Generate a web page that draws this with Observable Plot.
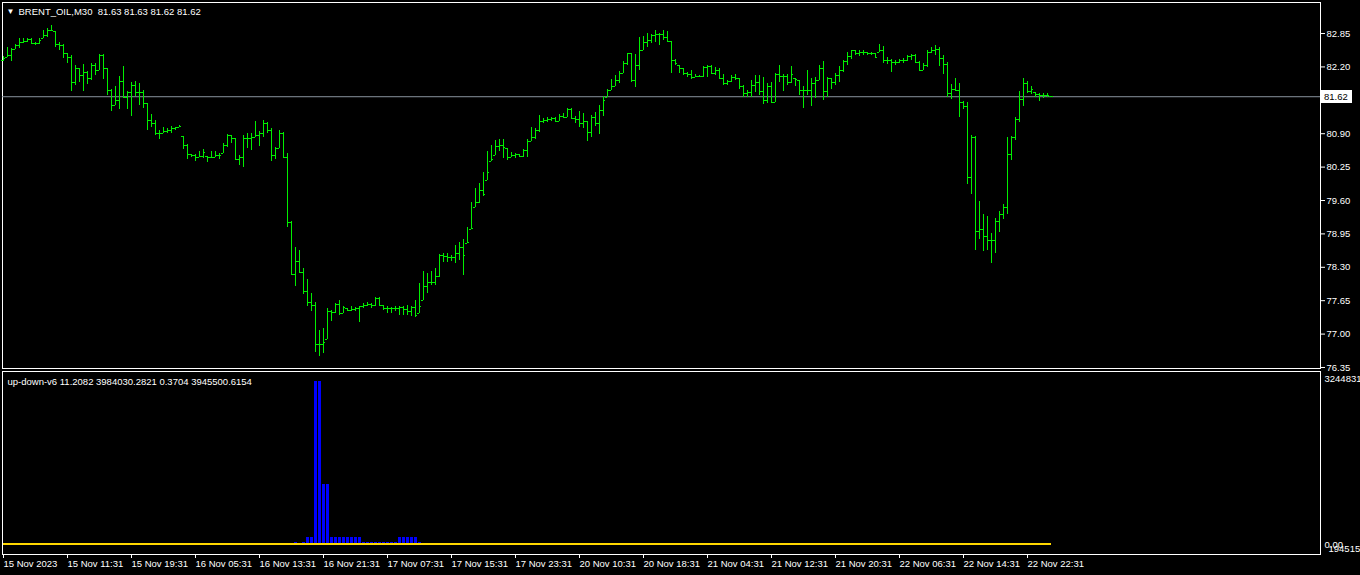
<!DOCTYPE html>
<html>
<head>
<meta charset="utf-8">
<script src="https://cdn.jsdelivr.net/npm/d3@7"></script>
<script src="https://cdn.jsdelivr.net/npm/@observablehq/plot@0.6"></script>
<style>
  html, body { margin: 0; padding: 0; background: #000; overflow: hidden; }
  #chart svg { display: block; }
</style>
</head>
<body>
<div id="chart"></div>
<script>
// ---------- DATA (BRENT_OIL, M30) ----------
const symbolTitle = "BRENT_OIL,M30\u00a0 81.63 81.63 81.62 81.62";
const indicatorTitle = "up-down-v6 11.2082 3984030.2821 0.3704 3945500.6154";
const currentPrice = 81.62;
const priceTicks = [82.85, 82.20, 81.55, 80.90, 80.25, 79.60, 78.95, 78.30, 77.65, 77.00, 76.35];

const timeTickIdx = [0, 16, 32, 48, 64, 80, 96, 112, 128, 144, 160, 176, 192, 208, 224, 240, 256];
const timeLabels = ["15 Nov 2023","15 Nov 11:31","15 Nov 19:31","16 Nov 05:31","16 Nov 13:31","16 Nov 21:31",
  "17 Nov 07:31","17 Nov 15:31","17 Nov 23:31","20 Nov 10:31","20 Nov 18:31","21 Nov 04:31",
  "21 Nov 12:31","21 Nov 20:31","22 Nov 06:31","22 Nov 14:31","22 Nov 22:31"];

const opens = [
82.33,82.38,82.42,82.53,82.62,82.68,82.70,82.73,82.66,82.65,
82.75,82.81,82.91,82.89,82.64,82.62,82.46,82.39,81.90,82.16,
82.03,82.10,81.97,82.23,82.14,82.42,82.16,81.74,81.45,81.55,
81.92,81.61,81.71,81.84,81.71,81.71,81.48,81.16,81.09,80.91,
80.91,80.95,80.96,81.00,81.02,80.85,80.67,80.49,80.47,80.44,
80.46,80.46,80.44,80.44,80.48,80.51,80.67,80.87,80.80,80.39,
80.44,80.80,80.80,80.83,80.87,80.91,81.09,80.96,80.48,80.62,
80.91,80.44,79.18,78.16,78.42,78.19,77.82,77.62,77.56,76.80,
76.80,76.89,77.43,77.42,77.58,77.41,77.49,77.46,77.48,77.49,
77.53,77.56,77.58,77.56,77.69,77.56,77.49,77.49,77.49,77.49,
77.51,77.47,77.43,77.51,77.40,77.66,77.92,78.01,78.01,78.12,
78.53,78.51,78.50,78.49,78.56,78.69,78.76,79.03,79.47,79.57,
79.80,79.99,80.35,80.48,80.65,80.67,80.61,80.44,80.48,80.49,
80.46,80.57,80.74,80.83,80.96,81.13,81.16,81.17,81.19,81.13,
81.24,81.22,81.38,81.19,81.17,81.09,81.13,80.93,81.21,81.09,
81.35,81.60,81.75,81.82,81.94,82.08,82.26,82.47,81.94,82.23,
82.52,82.68,82.71,82.81,82.84,82.83,82.78,82.69,82.33,82.23,
82.16,82.07,82.05,82.00,82.01,82.01,82.19,82.21,82.08,82.13,
81.97,81.87,81.92,82.00,81.97,81.82,81.68,81.71,81.84,81.90,
81.73,81.55,81.82,81.51,82.05,82.01,82.01,81.90,81.97,81.94,
81.74,81.74,81.74,81.88,81.94,82.16,81.72,81.97,81.90,82.03,
82.13,82.31,82.40,82.51,82.47,82.49,82.48,82.46,82.46,82.49,
82.52,82.33,82.33,82.29,82.29,82.33,82.33,82.40,82.42,82.29,
82.14,82.23,82.49,82.52,82.53,82.36,82.25,81.68,81.77,81.75,
81.51,81.43,80.04,80.83,79.00,79.03,78.90,78.82,78.82,79.20,
79.33,79.46,80.50,80.83,81.17,81.56,81.88,81.73,81.71,81.66,
81.64,81.64,81.63];

const highs = [
82.40,82.57,82.55,82.64,82.75,82.75,82.75,82.75,82.68,82.75,
82.91,82.94,83.01,82.89,82.68,82.64,82.47,82.42,82.23,82.16,
82.25,82.12,82.26,82.26,82.44,82.44,82.16,81.77,81.81,82.01,
82.20,81.73,81.90,81.92,81.87,81.75,81.48,81.27,81.16,80.96,
81.02,81.00,81.04,81.03,81.06,80.85,80.69,80.50,80.49,80.55,
80.59,80.46,80.55,80.55,80.52,80.70,80.88,80.87,80.81,80.48,
80.87,80.90,80.91,81.13,80.94,81.15,81.11,81.00,80.64,80.96,
80.93,80.51,79.19,78.69,78.63,78.27,78.06,77.79,77.62,77.07,
77.10,77.49,77.46,77.60,77.66,77.53,77.49,77.53,77.51,77.54,
77.60,77.62,77.59,77.71,77.71,77.56,77.53,77.51,77.53,77.53,
77.53,77.56,77.54,77.66,77.99,78.21,78.18,78.21,78.27,78.55,
78.56,78.56,78.53,78.73,78.79,78.85,79.08,79.57,79.83,79.93,
80.15,80.55,80.67,80.77,80.78,80.78,80.61,80.54,80.52,80.50,
80.59,80.78,81.03,81.00,81.25,81.19,81.21,81.22,81.21,81.27,
81.29,81.40,81.40,81.24,81.34,81.30,81.13,81.25,81.32,81.45,
81.62,81.77,81.95,82.03,82.12,82.31,82.47,82.47,82.44,82.77,
82.79,82.86,82.84,82.90,82.86,82.91,82.88,82.70,82.34,82.23,
82.16,82.10,82.13,82.05,82.03,82.21,82.23,82.23,82.18,82.16,
82.05,81.94,82.03,82.05,81.97,81.84,81.74,81.94,82.03,82.03,
81.99,81.87,81.90,82.08,82.23,82.05,82.05,82.20,81.97,81.94,
81.81,82.13,81.97,81.99,82.23,82.30,81.99,81.97,82.07,82.20,
82.33,82.49,82.52,82.51,82.52,82.52,82.48,82.48,82.47,82.64,
82.60,82.38,82.34,82.33,82.34,82.36,82.43,82.44,82.44,82.31,
82.27,82.51,82.58,82.62,82.58,82.42,82.29,81.86,81.97,81.88,
81.53,81.50,80.87,80.85,79.58,79.33,79.29,78.95,79.24,79.38,
79.52,80.82,80.85,81.21,81.72,81.97,81.92,81.81,81.71,81.69,
81.68,81.69,81.63];

const lows = [
82.31,82.38,82.31,82.53,82.55,82.66,82.68,82.64,82.62,82.64,
82.75,82.77,82.90,82.58,82.52,82.36,82.27,81.73,81.84,81.90,
81.73,81.85,81.94,82.03,82.14,81.95,81.64,81.34,81.45,81.37,
81.60,81.37,81.24,81.62,81.45,81.40,80.96,81.03,80.87,80.78,
80.91,80.91,80.91,80.96,81.02,80.59,80.39,80.43,80.35,80.43,
80.42,80.33,80.43,80.43,80.39,80.51,80.64,80.70,80.37,80.28,
80.25,80.61,80.57,80.83,80.65,80.82,80.90,80.35,80.39,80.61,
80.41,79.07,78.14,77.92,78.18,77.77,77.54,77.43,76.65,76.57,
76.62,76.89,77.25,77.40,77.36,77.40,77.43,77.43,77.43,77.23,
77.49,77.53,77.49,77.53,77.53,77.46,77.41,77.41,77.43,77.36,
77.36,77.36,77.34,77.33,77.40,77.66,77.79,77.95,77.95,78.11,
78.40,78.40,78.42,78.37,78.43,78.14,78.76,79.03,79.47,79.54,
79.68,79.99,80.35,80.48,80.56,80.41,80.37,80.43,80.42,80.43,
80.43,80.44,80.74,80.78,80.93,81.09,81.11,81.14,81.11,81.13,
81.19,81.21,81.17,81.09,81.03,81.00,80.74,80.82,81.04,80.89,
81.24,81.60,81.74,81.81,81.87,82.08,82.23,81.90,81.79,82.14,
82.51,82.57,82.65,82.68,82.62,82.71,82.68,82.07,82.23,82.07,
82.03,82.00,81.95,81.99,81.99,82.00,82.00,82.05,82.03,81.95,
81.84,81.84,81.90,81.94,81.77,81.61,81.61,81.60,81.71,81.64,
81.47,81.48,81.48,81.50,81.90,81.73,81.84,81.87,81.81,81.64,
81.40,81.64,81.43,81.58,81.94,81.55,81.61,81.77,81.84,81.90,
82.10,82.23,82.34,82.42,82.40,82.42,82.42,82.42,82.38,82.49,
82.26,82.25,82.10,82.23,82.26,82.27,82.31,82.33,82.26,82.12,
82.13,82.18,82.47,82.42,82.21,82.05,81.61,81.56,81.73,81.22,
81.38,79.91,79.72,78.63,78.84,78.60,78.63,78.38,78.56,78.97,
79.23,79.33,80.37,80.76,81.11,81.43,81.68,81.66,81.60,81.53,
81.59,81.61,81.62];

const closes = [
82.37,82.42,82.53,82.62,82.68,82.70,82.73,82.66,82.65,82.71,
82.81,82.91,82.91,82.64,82.62,82.46,82.39,81.90,82.16,82.03,
82.10,81.97,82.23,82.14,82.42,82.16,81.74,81.45,81.55,81.92,
81.61,81.71,81.84,81.71,81.71,81.48,81.16,81.09,80.91,80.91,
80.95,80.96,81.00,81.02,81.04,80.67,80.49,80.47,80.44,80.46,
80.54,80.44,80.44,80.48,80.48,80.67,80.87,80.80,80.39,80.44,
80.80,80.80,80.83,80.87,80.91,81.09,80.96,80.48,80.62,80.91,
80.44,79.18,78.16,78.42,78.19,77.82,77.62,77.56,76.80,76.80,
76.83,77.43,77.42,77.58,77.41,77.51,77.46,77.48,77.49,77.53,
77.56,77.58,77.56,77.69,77.56,77.49,77.49,77.49,77.49,77.51,
77.47,77.43,77.51,77.36,77.54,77.92,78.01,78.01,78.12,78.53,
78.51,78.50,78.49,78.56,78.69,78.53,78.79,79.05,79.57,79.80,
79.72,80.15,80.39,80.65,80.67,80.63,80.44,80.48,80.49,80.46,
80.57,80.74,80.83,80.96,81.13,81.16,81.17,81.19,81.13,81.24,
81.22,81.38,81.19,81.17,81.09,81.13,80.93,81.21,81.09,81.35,
81.55,81.75,81.82,81.94,82.08,82.26,82.47,81.94,82.23,82.52,
82.68,82.71,82.81,82.84,82.83,82.78,82.69,82.33,82.27,82.16,
82.07,82.05,82.00,82.01,82.01,82.19,82.21,82.08,82.13,81.97,
81.87,81.92,82.00,81.97,81.82,81.68,81.71,81.84,81.90,81.73,
81.55,81.82,81.51,82.05,82.01,82.01,81.90,82.05,81.95,81.74,
81.74,81.74,81.88,81.94,82.16,81.72,81.97,81.90,82.03,82.13,
82.31,82.40,82.51,82.47,82.49,82.49,82.46,82.46,82.39,82.52,
82.33,82.33,82.29,82.29,82.33,82.33,82.40,82.42,82.29,82.14,
82.23,82.49,82.52,82.53,82.36,82.25,81.68,81.77,81.75,81.51,
81.43,80.04,80.83,79.00,79.03,78.90,78.82,78.82,79.20,79.33,
79.46,80.50,80.83,81.17,81.56,81.88,81.73,81.77,81.66,81.64,
81.64,81.65,81.62];

// up-down-v6 histogram (bar index -> value); other bars are empty
const histIdx = [73,75,76,77,78,79,80,81,82,83,84,85,86,87,88,89,90,91,92,93,94,95,96,97,98,99,100,101,102,103,104];
const histVal = [40000,40000,140000,140000,3244831,3244831,1194000,1194000,
  140000,140000,140000,140000,140000,140000,140000,140000,
  40000,40000,40000,40000,40000,40000,40000,40000,40000,
  140000,140000,140000,140000,140000,40000];
const indicatorMaxLabel = "3244831";
const indicatorZeroLabel = "0.00";
const indicatorMinLabel = "1945157";
const indicatorLevel = 0;

// ---------- BUILD ----------
const GREEN = "#00ee00";
const FONT = "Tahoma, 'Liberation Sans', Arial, sans-serif";
const FS = "9.5px";
const bars = closes.map((c, i) => ({i, open: opens[i], high: highs[i], low: lows[i], close: c}));
const hist = histIdx.map((i, k) => ({i, v: histVal[k]}));
const lastIdx = bars.length - 1;
const W = 1360, MR = 40;
const xDomain = [-0.25, 329.25];

const main = Plot.plot({
  width: W, height: 369,
  marginLeft: 2, marginRight: MR, marginTop: 2, marginBottom: 1,
  style: {background: "black", color: "white", fontFamily: FONT, fontSize: FS, overflow: "visible"},
  x: {domain: xDomain, axis: null},
  y: {domain: [76.33, 83.454], axis: null},
  marks: [
    Plot.frame({stroke: "white"}),
    Plot.axisY(priceTicks, {anchor: "right", tickSize: 4, tickPadding: 2, tickFormat: d3.format(".2f"), fill: "white", stroke: "white"}),
    Plot.ruleY([currentPrice], {stroke: "#8a949e"}),
    Plot.ruleX(bars, {x: "i", y1: "low", y2: "high", stroke: GREEN, shapeRendering: "crispEdges"}),
    Plot.ruleY(bars, {y: "open", x1: d => d.i - 0.5, x2: "i", stroke: GREEN, shapeRendering: "crispEdges"}),
    Plot.ruleY(bars, {y: "close", x1: "i", x2: d => d.i + 0.5, stroke: GREEN, shapeRendering: "crispEdges"}),
    Plot.text(["\u25BC"], {frameAnchor: "top-left", dx: 4, dy: 9, lineAnchor: "middle", fill: "white", fontSize: 8}),
    Plot.text([symbolTitle], {frameAnchor: "top-left", dx: 16, dy: 9, lineAnchor: "middle", fill: "white"})
  ]
});

// current price marker on the price axis
{
  const ys = main.scale("y");
  const yy = Math.round(ys.apply(currentPrice));
  const g = d3.select(main).append("g").attr("text-anchor", "start");
  g.append("rect").attr("x", W - MR + 1).attr("y", yy - 6).attr("width", 31).attr("height", 13).attr("fill", "white");
  g.append("text").attr("x", W - MR + 4).attr("y", yy + 0.5).attr("dy", "0.32em").attr("text-anchor", "start")
    .attr("fill", "black").attr("font-family", FONT).attr("font-size", FS).text(currentPrice.toFixed(2));
}

const ind = Plot.plot({
  width: W, height: 206,
  marginLeft: 2, marginRight: MR, marginTop: 2, marginBottom: 21,
  style: {background: "black", color: "white", fontFamily: FONT, fontSize: FS, overflow: "visible"},
  x: {domain: xDomain},
  y: {domain: [-199070, 3443901], axis: null},
  marks: [
    Plot.frame({stroke: "white"}),
    Plot.rectY(hist, {x1: d => d.i - 0.375, x2: d => d.i + 0.375, y1: 0, y2: "v", fill: "#0000ff", shapeRendering: "crispEdges"}),
    Plot.ruleY([indicatorLevel], {x1: 0, x2: lastIdx, stroke: "#ffd700", strokeWidth: 2, dy: -0.5, shapeRendering: "crispEdges"}),
    Plot.axisX(timeTickIdx, {anchor: "bottom", tickSize: 4, tickPadding: 2, textAnchor: "start",
      tickFormat: d => timeLabels[timeTickIdx.indexOf(d)], fill: "white", stroke: "white"}),
    Plot.text([indicatorTitle], {frameAnchor: "top-left", dx: 5, dy: 10, lineAnchor: "middle", fill: "white"}),
    Plot.text([d3.max(histVal)], {y: d => d, frameAnchor: "right", dx: 4, dy: -3, textAnchor: "start", lineAnchor: "middle", fill: "white", text: () => indicatorMaxLabel}),
    Plot.text([0], {y: d => d, frameAnchor: "right", dx: 4, dy: 0, textAnchor: "start", lineAnchor: "middle", fill: "white", text: () => indicatorZeroLabel}),
    Plot.text([0], {y: d => d, frameAnchor: "right", dx: 8, dy: 4, textAnchor: "start", lineAnchor: "middle", fill: "white", text: () => indicatorMinLabel})
  ]
});

document.getElementById("chart").append(main, ind);
</script>
</body>
</html>
